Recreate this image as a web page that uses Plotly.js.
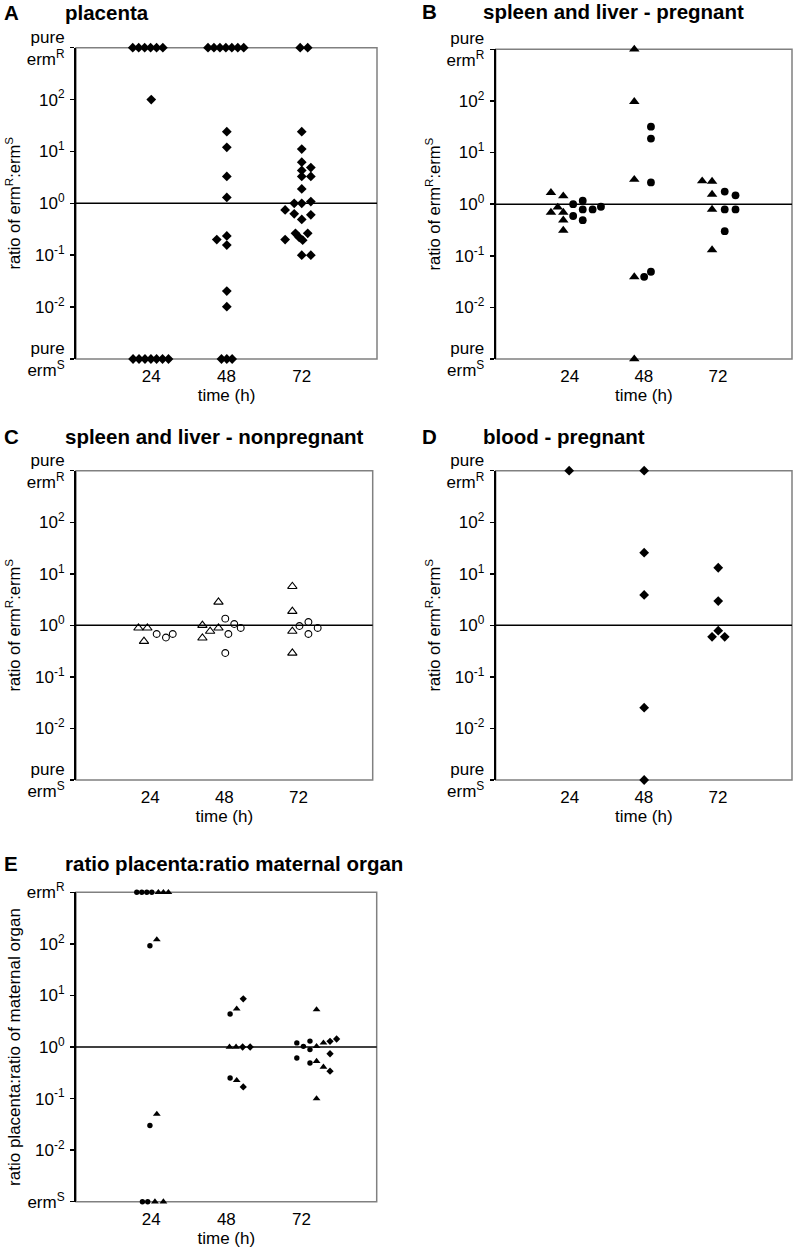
<!DOCTYPE html>
<html>
<head>
<meta charset="utf-8">
<script src="https://cdn.plot.ly/plotly-3.0.1.min.js"></script>
<style>
html,body{margin:0;padding:0;background:#fff;}
#chart{width:794px;height:1250px;}
</style>
</head>
<body>
<div id="chart"></div>
<script>
// ---------- tick labels ----------
const timeTicks = [24, 48, 72];
const timeTickText = ['24', '48', '72'];
const ratioTickVals = [0.001, 0.01, 0.1, 1, 10, 100, 1000];
const ratioTickText = ['pure<br>erm<sup>S</sup>', '10<sup>-2</sup>', '10<sup>-1</sup>', '10<sup>0</sup>', '10<sup>1</sup>', '10<sup>2</sup>', 'pure<br>erm<sup>R</sup>'];
const organTickText = ['erm<sup>S</sup>', '10<sup>-2</sup>', '10<sup>-1</sup>', '10<sup>0</sup>', '10<sup>1</sup>', '10<sup>2</sup>', 'erm<sup>R</sup>'];

// ---------- A: placenta (time in h, small jitter) ----------
const placentaX = [
  18.1, 20.0, 21.9, 23.8, 25.7, 27.7,
  24.0,
  18.2, 20.1, 22.0, 23.9, 25.7, 27.6, 29.5,
  42.1, 44.0, 45.9, 47.8, 49.7, 51.6, 53.5,
  48.1, 48.1, 48.1, 48.1, 44.9, 48.1, 48.1, 48.1, 48.1,
  46.4, 48.1, 49.8,
  71.5, 73.9,
  72.0, 72.0, 72.0, 74.9, 72.0, 72.0, 74.9, 72.0, 74.9, 69.6, 72.0, 66.7, 69.6, 74.9, 72.0,
  66.7, 70.0, 71.2, 72.3, 73.9, 72.0, 74.9
];
const placentaY = [
  1000, 1000, 1000, 1000, 1000, 1000,
  100,
  0.001, 0.001, 0.001, 0.001, 0.001, 0.001, 0.001,
  1000, 1000, 1000, 1000, 1000, 1000, 1000,
  24, 12, 3.3, 1.3, 0.2, 0.235, 0.157, 0.0204, 0.0102,
  0.001, 0.001, 0.001,
  1000, 1000,
  24, 11.1, 6.2, 4.9, 4.3, 3.3, 3.3, 1.9, 1.08, 1.0, 1.0, 0.745, 0.63, 0.6, 0.49,
  0.2, 0.265, 0.22, 0.195, 0.265, 0.1, 0.1
];

// ---------- B: spleen and liver - pregnant ----------
const pregTriX = [17.9, 21.9, 20.1, 17.9, 21.9, 21.9, 21.9, 44.9, 44.9, 44.9, 44.9, 44.9, 66.9, 70.1, 70.1, 70.1, 70.1];
const pregTriY = [1.67, 1.44, 0.87, 0.69, 0.69, 0.49, 0.31, 1000, 97, 3.0, 0.039, 0.001, 2.8, 2.75, 1.55, 0.79, 0.13];
const pregCircX = [25.1, 28.2, 25.1, 28.2, 28.2, 31.4, 34.1, 50.3, 50.3, 50.3, 48.1, 50.3, 74.2, 77.7, 74.2, 77.7, 74.2];
const pregCircY = [1.0, 1.17, 0.59, 0.79, 0.49, 0.79, 0.89, 31.7, 18.6, 2.64, 0.039, 0.049, 1.75, 1.48, 0.79, 0.79, 0.30];

// ---------- C: spleen and liver - nonpregnant ----------
const nonpregTriX = [20.2, 23.1, 22.0, 40.9, 43.4, 40.9, 46.1, 46.1, 70.0, 70.0, 70.0, 70.0];
const nonpregTriY = [0.89, 0.89, 0.49, 1.0, 0.77, 0.57, 0.89, 2.83, 5.7, 1.87, 0.77, 0.29];
const nonpregCircX = [26.1, 29.1, 31.3, 48.3, 51.2, 53.3, 49.3, 48.3, 72.3, 75.2, 75.2, 78.2];
const nonpregCircY = [0.68, 0.58, 0.68, 1.35, 1.06, 0.89, 0.68, 0.29, 0.97, 1.16, 0.68, 0.89];

// ---------- D: blood - pregnant ----------
const bloodX = [23.8, 48.1, 48.1, 48.1, 48.1, 48.1, 72.1, 72.1, 72.1, 70.1, 74.2];
const bloodY = [1000, 1000, 25.7, 3.9, 0.0253, 0.001, 13.1, 2.96, 0.79, 0.60, 0.60];

// ---------- E: ratio placenta : ratio maternal organ ----------
const eCircX = [19.4, 21.0, 22.6, 24.2, 23.6, 23.6, 21.2, 22.9, 49.2, 49.2, 70.5, 72.6, 74.7, 74.7, 70.5, 74.7];
const eCircY = [1000, 1000, 1000, 1000, 92, 0.030, 0.001, 0.001, 4.36, 0.25, 1.2, 1.03, 1.3, 0.89, 0.61, 0.49];
const eTriX = [26.3, 27.9, 29.5, 25.8, 25.8, 25.2, 27.9, 51.3, 49.0, 51.1, 51.3, 76.8, 76.8, 79.0, 76.8, 79.0, 76.8];
const eTriY = [1000, 1000, 1000, 121, 0.050, 0.001, 0.001, 5.5, 1.0, 1.0, 0.226, 5.3, 1.03, 1.2, 0.53, 0.41, 0.10];
const eDiaX = [53.4, 53.2, 55.6, 53.4, 81.1, 83.2, 81.1, 81.1];
const eDiaY = [8.6, 1.0, 1.0, 0.168, 1.29, 1.43, 0.74, 0.34];

// ---------- styling / layout ----------
const FONT = 'Liberation Sans, Arial, Helvetica, sans-serif';
const W = 794, H = 1250;
const px = v => v / W;
const py = v => 1 - v / H;

function pts(x, y, xa, ya, symbol, size, open) {
  return {
    type: 'scatter', mode: 'markers', x: x, y: y, xaxis: xa, yaxis: ya,
    cliponaxis: false, hoverinfo: 'x+y',
    marker: open
      ? {symbol: symbol, size: size, color: '#000', line: {color: '#000', width: 1.1}}
      : {symbol: symbol, size: size, color: '#000', line: {width: 0}}
  };
}

const data = [
  pts(placentaX, placentaY, 'x', 'y', 'diamond', 7.5, false),
  pts(pregTriX, pregTriY, 'x2', 'y2', 'triangle-up', 9.2, false),
  pts(pregCircX, pregCircY, 'x2', 'y2', 'circle', 7.8, false),
  pts(nonpregTriX, nonpregTriY, 'x3', 'y3', 'triangle-up-open', 8.2, true),
  pts(nonpregCircX, nonpregCircY, 'x3', 'y3', 'circle-open', 6.8, true),
  pts(bloodX, bloodY, 'x4', 'y4', 'diamond', 7.5, false),
  pts(eCircX, eCircY, 'x5', 'y5', 'circle', 5.4, false),
  pts(eTriX, eTriY, 'x5', 'y5', 'triangle-up', 6.8, false),
  pts(eDiaX, eDiaY, 'x5', 'y5', 'diamond', 5.6, false)
];

function xAxis(domain, anchor) {
  return {
    domain: domain, anchor: anchor, range: [0, 96],
    tickmode: 'array', tickvals: timeTicks, ticktext: timeTickText,
    ticks: '', showline: false, showgrid: false, zeroline: false,
    ticklabelstandoff: 5,
    tickfont: {family: FONT, size: 17, color: '#000'},
    title: {text: 'time (h)', font: {family: FONT, size: 17, color: '#000'}, standoff: 4}
  };
}
function yAxis(domain, anchor, ticktext, title, titleSize) {
  return {
    domain: domain, anchor: anchor, type: 'log', range: [-3, 3],
    tickmode: 'array', tickvals: ratioTickVals, ticktext: ticktext,
    showline: true, linecolor: '#000', linewidth: 2,
    ticks: 'outside', ticklen: 4, tickwidth: 1.5, tickcolor: '#000',
    showgrid: false, zeroline: false, ticklabelstandoff: 2,
    tickfont: {family: FONT, size: 17, color: '#000'},
    title: {text: title, font: {family: FONT, size: titleSize, color: '#000'}, standoff: 2}
  };
}

const ratioTitle = 'ratio of erm<sup>R</sup>:erm<sup>S</sup>';
const layout = {
  width: W, height: H,
  margin: {l: 0, r: 0, t: 0, b: 0},
  paper_bgcolor: '#fff', plot_bgcolor: '#fff',
  showlegend: false,
  font: {family: FONT, color: '#000'},
  xaxis:  xAxis([px(76), px(377)], 'y'),
  yaxis:  yAxis([py(359), py(47.7)], 'x', ratioTickText, ratioTitle, 16.5),
  xaxis2: xAxis([px(495.7), px(792)], 'y2'),
  yaxis2: yAxis([py(359), py(49.3)], 'x2', ratioTickText, ratioTitle, 16.5),
  xaxis3: xAxis([px(76), px(372.7)], 'y3'),
  yaxis3: yAxis([py(780), py(470.7)], 'x3', ratioTickText, ratioTitle, 16.5),
  xaxis4: xAxis([px(495.7), px(792)], 'y4'),
  yaxis4: yAxis([py(780), py(470.7)], 'x4', ratioTickText, ratioTitle, 16.5),
  xaxis5: xAxis([px(76), px(376.7)], 'y5'),
  yaxis5: yAxis([py(1201.7), py(892.3)], 'x5', organTickText, 'ratio placenta:ratio of maternal organ', 17),
  shapes: [],
  annotations: []
};

const axIds = ['', '2', '3', '4', '5'];
axIds.forEach(id => {
  layout.shapes.push({
    type: 'rect', layer: 'below', xref: 'x' + id + ' domain', yref: 'y' + id + ' domain',
    x0: 0, x1: 1, y0: 0, y1: 1, line: {color: '#808080', width: 1.5}, fillcolor: 'rgba(0,0,0,0)'
  });
  layout.shapes.push({
    type: 'line', layer: 'below', xref: 'x' + id + ' domain', yref: 'y' + id,
    x0: 0, x1: 1, y0: 1, y1: 1, line: {color: '#000', width: 1.5}
  });
});

const panelTitles = [
  {letter: 'A', text: 'placenta', lx: 2, tx: 63, y: 12},
  {letter: 'B', text: 'spleen and liver - pregnant', lx: 420, tx: 481, y: 11},
  {letter: 'C', text: 'spleen and liver - nonpregnant', lx: 2, tx: 63, y: 436},
  {letter: 'D', text: 'blood - pregnant', lx: 420, tx: 481, y: 436},
  {letter: 'E', text: 'ratio placenta:ratio maternal organ', lx: 2, tx: 63, y: 863}
];
panelTitles.forEach(p => {
  [[p.letter, p.lx], [p.text, p.tx]].forEach(([t, x]) => {
    layout.annotations.push({
      text: '<b>' + t + '</b>', xref: 'paper', yref: 'paper', x: px(x), y: py(p.y),
      xanchor: 'left', yanchor: 'middle', showarrow: false,
      font: {family: FONT, size: 20.5, color: '#000'}
    });
  });
});

Plotly.newPlot('chart', data, layout, {staticPlot: true, displayModeBar: false});
</script>
</body>
</html>
